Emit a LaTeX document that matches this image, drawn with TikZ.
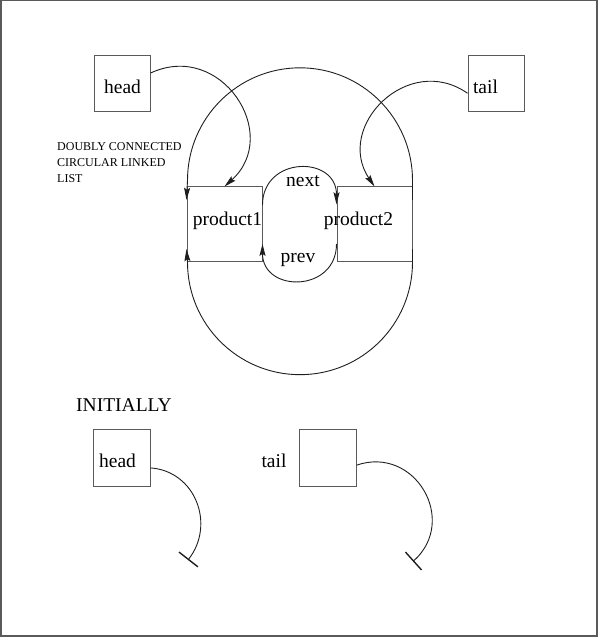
\documentclass[tikz,border=0pt]{standalone}
\usepackage{fontspec}
\setmainfont{Liberation Serif}
\usepackage{xcolor}
\usepackage{tikz}
\usetikzlibrary{arrows.meta}
\definecolor{boxline}{HTML}{5A5A5A}
\definecolor{ink}{HTML}{1E1E1E}
\tikzset{
  cell/.style={draw=boxline, line width=1pt, minimum size=#1, inner sep=0pt},
  lab/.style={font=\fontsize{19.5}{23}\selectfont, anchor=base, inner sep=0pt},
  note/.style={font=\fontsize{12}{15.6}\selectfont, align=left, anchor=north west, inner sep=0pt},
  link/.style={draw=ink, line width=0.9pt, -{Stealth[length=12pt,width=6pt,inset=2pt]}},
  nilline/.style={draw=ink, line width=0.9pt, -{Bar[width=24pt,line width=1.4pt]}},
}

\begin{document}
\begin{tikzpicture}[x=1pt,y=1pt]
\useasboundingbox (0,0) rectangle (600,637);
\draw[boxline, line width=1.5pt] (0.75,0.75) rectangle (597,636.25);

% pointers and list cells
\node[cell=56pt] (hd) at (122,553) {};
\node[cell=56pt] (tl) at (496,553) {};
\node[cell=75pt] (p1) at (224.5,412.5) {};
\node[cell=75pt] (p2) at (374.5,412.5) {};
\node[lab] (hdtxt) at (122.5,543) {head};
\node[lab] (tltxt) at (485.5,543) {tail};
\node[lab] (p1txt) at (227.5,411) {product1};
\node[lab] (p2txt) at (358.5,411) {product2};
\node[lab] (nexttxt) at (303,450) {next};
\node[lab] (prevtxt) at (298,374) {prev};
\node[note] (title) at (57,494.2) {DOUBLY CONNECTED\\CIRCULAR LINKED\\LIST};

\draw[link] (hd.21) to[out=25,in=42,looseness=1.47] (p1.north);
\draw[link] (tl.198) to[out=145,in=124,looseness=1.4] (p2.north);
\draw[link] (p1.27.5) to[out=90,in=90,looseness=1.7] (p2.152.5);
\draw[link] (p2.207) to[out=-90,in=-90,looseness=1.7] (p1.-27);
\draw[link] (p2.33) -- ++(0,19.5) arc[start angle=0,end angle=180,radius=112.5] -- (p1.147);
\draw[link] (p2.-33) -- ++(0,-13) arc[start angle=0,end angle=-180,radius=112.5] -- (p1.213);

% empty list
\node[lab, anchor=base west] (init) at (76,225) {INITIALLY};
\node[cell=57pt] (ih) at (121.5,178.5) {};
\node[cell=57pt] (it) at (327.5,178.5) {};
\node[lab] (ihtxt) at (117.5,169) {head};
\node[lab] (ittxt) at (274,169) {tail};
\coordinate (hnil) at (188,77);
\coordinate (tnil) at (413,75.5);
\draw[nilline] (ih.-18) to[out=-4,in=52,looseness=1.16] (hnil);
\draw[nilline] (it.-13) to[out=19,in=42,looseness=1.41] (tnil);
\end{tikzpicture}
\end{document}
